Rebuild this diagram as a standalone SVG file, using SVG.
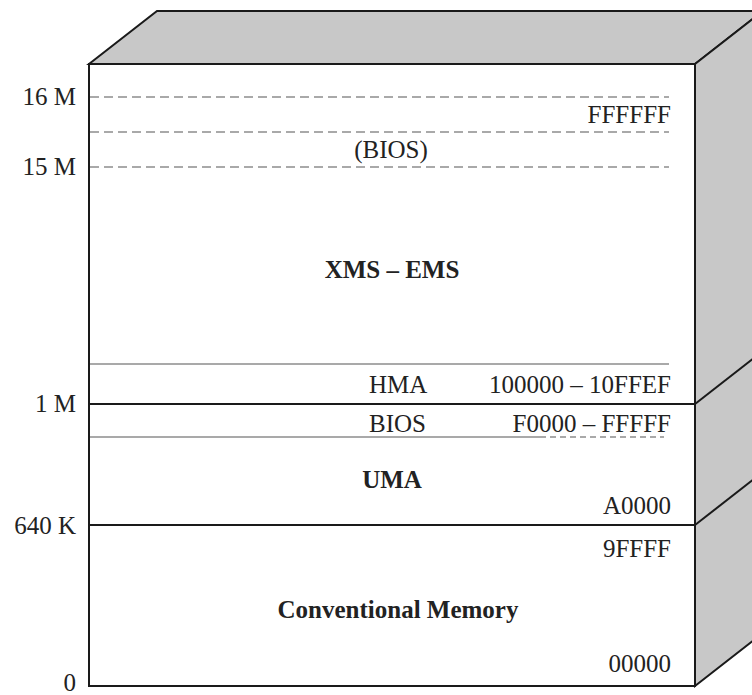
<svg xmlns="http://www.w3.org/2000/svg" width="752" height="695" viewBox="0 0 752 695">
  <style>
    .face { fill: #c8c8c8; stroke: #1a1a1a; stroke-width: 2; stroke-linejoin: miter; }
    .front { fill: #ffffff; stroke: #1a1a1a; stroke-width: 2; }
    .edge { stroke: #1a1a1a; stroke-width: 2; fill: none; }
    .thin { stroke: #555555; stroke-width: 1.2; fill: none; }
    .dash { stroke: #555555; stroke-width: 1.2; fill: none; stroke-dasharray: 9 5; }
    text { font-family: "Liberation Serif", "Times New Roman", serif; font-size: 25px; fill: #222222; }
    .axis { text-anchor: end; }
    .addr { text-anchor: end; }
    .title { font-weight: bold; text-anchor: middle; }
    .mid { text-anchor: middle; }
  </style>

  <!-- 3D block -->
  <g id="block">
    <polygon class="face" points="89,64 157,11 763,11 695,64"/>
    <polygon class="face" points="695,64 763,11 763,633 695,686"/>
    <rect class="front" x="89" y="64" width="606" height="622"/>
    <line class="edge" x1="695" y1="404" x2="763" y2="351"/>
    <line class="edge" x1="695" y1="525" x2="763" y2="472"/>
  </g>

  <!-- boundary lines -->
  <g id="boundaries">
    <line class="dash" x1="90" y1="97" x2="669" y2="97"/>
    <line class="dash" x1="90" y1="132" x2="669" y2="132"/>
    <line class="dash" x1="90" y1="167" x2="669" y2="167"/>
    <line class="thin" x1="90" y1="364" x2="669" y2="364"/>
    <line class="edge" x1="89" y1="404" x2="695" y2="404"/>
    <line class="thin" x1="90" y1="437" x2="540" y2="437"/>
    <line class="thin" x1="540" y1="437" x2="664" y2="437" stroke-dasharray="6 4"/>
    <line class="edge" x1="89" y1="525" x2="695" y2="525"/>
  </g>

  <!-- address scale -->
  <g id="scale">
    <text class="axis" x="76" y="105">16 M</text>
    <text class="axis" x="76" y="175">15 M</text>
    <text class="axis" x="76" y="412">1 M</text>
    <text class="axis" x="76" y="534">640 K</text>
    <text class="axis" x="76" y="691">0</text>
  </g>

  <g id="xms">
    <text class="addr" x="671" y="123">FFFFFF</text>
    <text class="mid" x="391" y="158">(BIOS)</text>
    <text class="title" x="392" y="278">XMS – EMS</text>
  </g>

  <g id="hma">
    <text x="369" y="393">HMA</text>
    <text class="addr" x="671" y="393">100000 – 10FFEF</text>
  </g>

  <g id="uma">
    <text x="369" y="432">BIOS</text>
    <text class="addr" x="671" y="432">F0000 – FFFFF</text>
    <text class="title" x="392" y="488">UMA</text>
    <text class="addr" x="671" y="514">A0000</text>
  </g>

  <g id="conventional">
    <text class="addr" x="671" y="557">9FFFF</text>
    <text class="title" x="398" y="618">Conventional Memory</text>
    <text class="addr" x="671" y="672">00000</text>
  </g>
</svg>
